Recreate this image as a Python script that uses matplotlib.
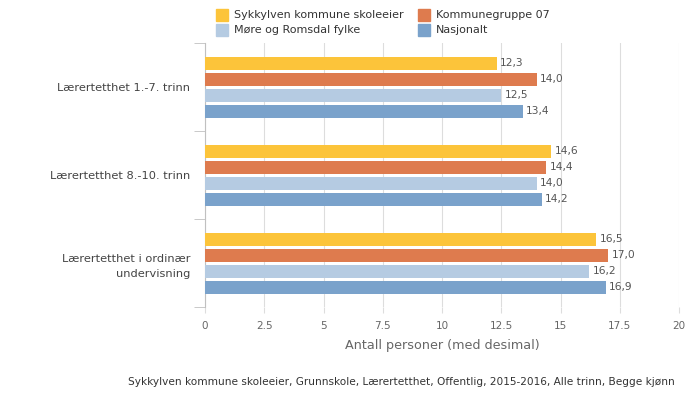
import matplotlib
matplotlib.use('Agg')
import matplotlib.pyplot as plt
import numpy as np
from matplotlib.patches import Rectangle

categories = ['Lærertetthet 1.-7. trinn', 'Lærertetthet 8.-10. trinn',
              'Lærertetthet i ordinær\nundervisning']
series_names = ['Sykkylven kommune skoleeier', 'Kommunegruppe 07',
                'Møre og Romsdal fylke', 'Nasjonalt']
sykkylven = [12.3, 14.6, 16.5]
kommunegruppe = [14.0, 14.4, 17.0]
fylke = [12.5, 14.0, 16.2]
nasjonalt = [13.4, 14.2, 16.9]
xticks = [0, 2.5, 5, 7.5, 10, 12.5, 15, 17.5, 20]
xtick_labels = ['0', '2.5', '5', '7.5', '10', '12.5', '15', '17.5', '20']
colors = ['#fcc43a', '#de7b4e', '#b5cbe2', '#7aa2cb']
footer = 'Sykkylven kommune skoleeier, Grunnskole, Lærertetthet, Offentlig, 2015-2016, Alle trinn, Begge kjønn'

plt.rcParams['font.family'] = ['DejaVu Sans']
fig = plt.figure(figsize=(7, 4.12), dpi=100)
ax = fig.add_axes([205 / 700, 1 - 307 / 412, 474 / 700, 264 / 412])

series = [sykkylven, kommunegruppe, fylke, nasjonalt]
step = 16 / 88
height = 13 / 88
y0 = np.arange(len(categories))
for i, vals in enumerate(series):
    ys = y0 + (i - 1.5) * step
    ax.barh(ys, vals, height=height, color=colors[i], zorder=3)
    for y, v in zip(ys, vals):
        ax.text(v + 0.15, y, f'{v:.1f}'.replace('.', ','), va='center', ha='left',
                fontsize=7.7, color='#555555')

ax.set_ylim(len(categories) - 0.5, -0.5)
ax.set_xlim(0, 20)
ax.set_xticks(xticks)
ax.set_xticklabels(xtick_labels)
ax.set_yticks(y0)
ax.set_yticklabels(categories, fontsize=8.2, color='#444444', linespacing=1.6)
ax.tick_params(axis='y', length=0, pad=10.5)
ax.set_yticks([-0.5, 0.5, 1.5, 2.5], minor=True)
ax.tick_params(axis='y', which='minor', length=8, color='#c0c0c0')
ax.tick_params(axis='x', length=4, color='#dddddd', labelsize=7.5, labelcolor='#666666', pad=6)
ax.grid(axis='x', color='#dddddd', linewidth=0.8, zorder=0)
for s in ['top', 'right', 'bottom']:
    ax.spines[s].set_visible(False)
ax.spines['left'].set_color('#c0c0c0')
ax.set_xlabel('Antall personer (med desimal)', fontsize=9.2, color='#666666', labelpad=6)

# legend
leg_pos = [(216, 15), (418, 15), (216, 30), (418, 30)]
for (px, py), name, c in zip(leg_pos, series_names, colors):
    fig.patches.append(Rectangle((px / 700, 1 - (py + 6) / 412), 12 / 700, 12 / 412,
                                 transform=fig.transFigure, color=c))
    fig.text((px + 18) / 700, 1 - py / 412, name, fontsize=8, color='#333333', va='center')

fig.text(675 / 700, 1 - 382 / 412, footer, fontsize=7.6, color='#333333', ha='right', va='center')

fig.savefig('out.png', dpi=100)
